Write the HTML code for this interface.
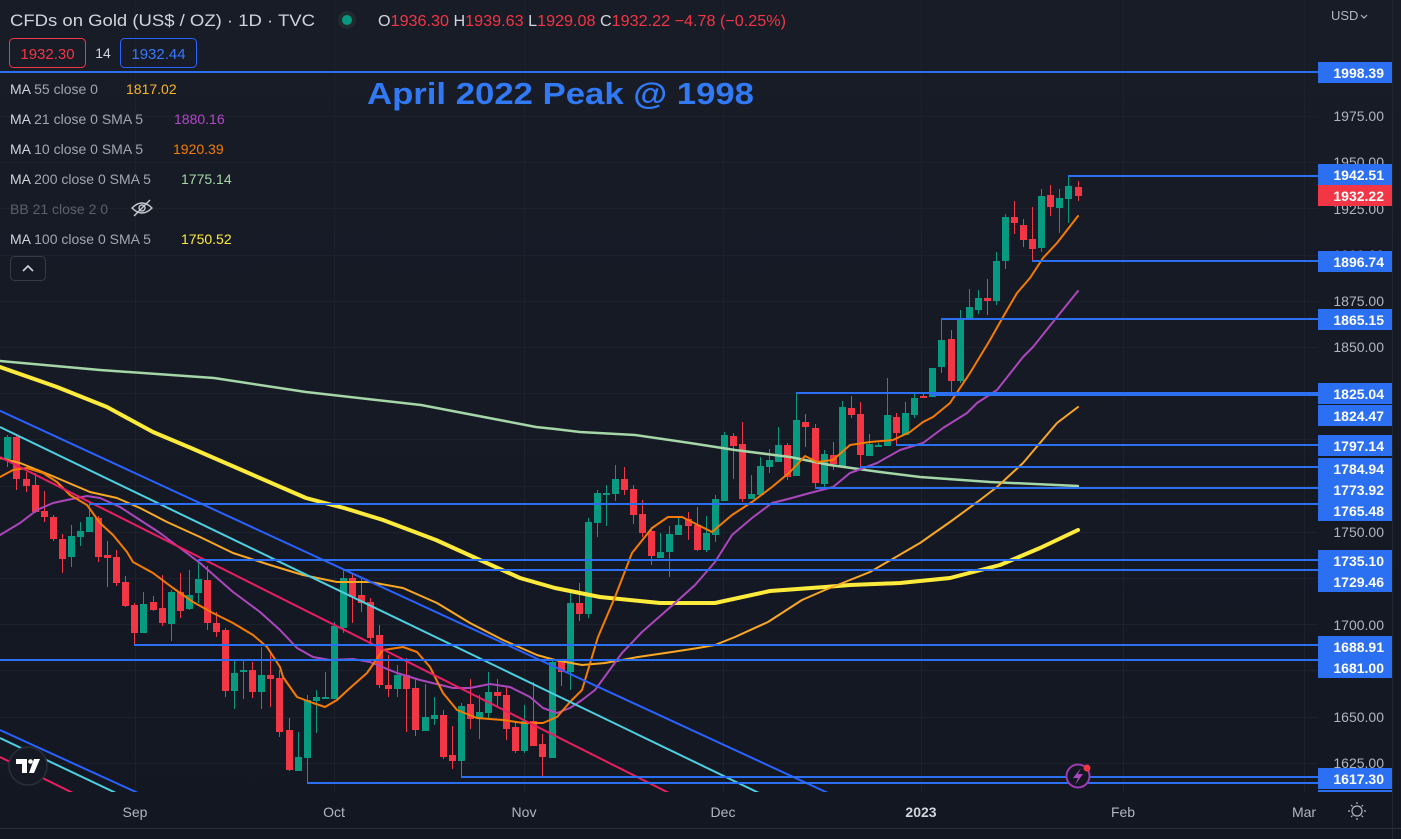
<!DOCTYPE html>
<html><head><meta charset="utf-8"><style>
html,body{margin:0;padding:0;background:#131722;width:1401px;height:839px;overflow:hidden}
svg{display:block}
text{font-family:"Liberation Sans",sans-serif}
</style></head><body>
<svg width="1401" height="839" viewBox="0 0 1401 839" xmlns="http://www.w3.org/2000/svg">
<defs>
<linearGradient id="bg" x1="0" y1="0" x2="0" y2="1">
<stop offset="0" stop-color="#181c27"/><stop offset="1" stop-color="#131722"/>
</linearGradient>
<clipPath id="plot"><rect x="0" y="0" width="1318" height="792"/></clipPath>
</defs>
<rect width="1401" height="839" fill="url(#bg)"/>
<!-- grid -->
<g stroke="#1d212c" stroke-width="1">
<path d="M135.5 0V792M334.5 0V792M524.5 0V792M723.5 0V792M921.5 0V792M1123.5 0V792M1304.5 0V792"/>
<path d="M0 116.5H1318M0 162.5H1318M0 208.5H1318M0 255.5H1318M0 301.5H1318M0 347.5H1318M0 393.5H1318M0 439.5H1318M0 486.5H1318M0 532.5H1318M0 578.5H1318M0 624.5H1318M0 670.5H1318M0 717.5H1318M0 763.5H1318"/>
</g>
<line x1="1392.5" y1="0" x2="1392.5" y2="839" stroke="#222631" stroke-width="1"/>
<g clip-path="url(#plot)">
<!-- candles -->
<path stroke="#089981" stroke-width="1" fill="none" d="M7.5 435V467M71.5 525V567M80.5 522V546M89.5 503V532M143.5 592V633M171.5 590V641M189.5 570V610M198.5 560V603M234.5 661V709M243.5 660V699M261.5 647V709M298.5 732V771M307.5 695V783M316.5 690V733M325.5 672V699M334.5 622V699M343.5 570V633M397.5 665V697M425.5 684V731M434.5 697V725M461.5 703V778M479.5 695V739M488.5 672V718M524.5 705V753M552.5 660V758M570.5 593V690M588.5 518V618M597.5 490V537M606.5 485V526M615.5 465V501M660.5 533V558M669.5 526V577M678.5 516V535M706.5 516V552M715.5 495V542M724.5 432V501M751.5 475V499M760.5 457V496M769.5 449V473M778.5 427V462M796.5 393V476M824.5 450V487M842.5 401V467M869.5 434V456M878.5 443V447M887.5 378V446M905.5 402V435M914.5 392V418M932.5 368V397M941.5 318V373M960.5 310V383M969.5 289V319M978.5 290V314M996.5 252V305M1005.5 214V269M1041.5 189V252M1059.5 189V233M1068.5 176V223"/>
<path fill="#089981" d="M4 437h7v22h-7zM68 536h7v21h-7zM77 531h7v6h-7zM86 517h7v15h-7zM140 604h7v29h-7zM168 592h7v32h-7zM186 595h7v14h-7zM195 579h7v14h-7zM231 673h7v18h-7zM240 670h7v2h-7zM258 675h7v17h-7zM295 757h7v14h-7zM304 700h7v58h-7zM313 697h7v4h-7zM322 697h7v2h-7zM331 626h7v73h-7zM340 578h7v50h-7zM394 675h7v14h-7zM422 717h7v14h-7zM431 715h7v4h-7zM458 706h7v55h-7zM476 712h7v7h-7zM485 692h7v21h-7zM521 721h7v30h-7zM549 662h7v96h-7zM567 603h7v69h-7zM585 522h7v92h-7zM594 493h7v30h-7zM603 493h7v2h-7zM612 479h7v15h-7zM657 552h7v6h-7zM666 534h7v18h-7zM675 525h7v10h-7zM703 533h7v17h-7zM712 499h7v36h-7zM721 435h7v66h-7zM748 494h7v5h-7zM757 466h7v29h-7zM766 460h7v7h-7zM775 445h7v17h-7zM793 420h7v56h-7zM821 454h7v30h-7zM839 407h7v59h-7zM866 444h7v12h-7zM875 445h7v2h-7zM884 415h7v31h-7zM902 413h7v22h-7zM911 398h7v17h-7zM929 368h7v29h-7zM938 340h7v27h-7zM957 319h7v62h-7zM966 307h7v12h-7zM975 298h7v12h-7zM993 261h7v40h-7zM1002 217h7v44h-7zM1038 196h7v52h-7zM1056 198h7v10h-7zM1065 186h7v13h-7z"/>
<path stroke="#f23645" stroke-width="1" fill="none" d="M16.5 435V490M26.5 472V492M35.5 473V513M44.5 491V522M53.5 515V541M62.5 534V573M98.5 516V562M107.5 541V587M116.5 550V586M125.5 576V607M134.5 603V646M153.5 596V611M162.5 575V626M180.5 573V618M207.5 566V630M216.5 612V637M225.5 628V697M252.5 662V698M270.5 653V707M279.5 670V737M289.5 718V771M352.5 573V623M361.5 578V612M370.5 598V643M379.5 625V688M388.5 655V697M406.5 658V732M415.5 678V736M443.5 710V759M452.5 726V769M470.5 679V729M497.5 679V707M506.5 686V740M515.5 722V753M533.5 682V746M542.5 734V778M561.5 659V686M579.5 583V621M624.5 467V495M633.5 485V524M642.5 500V537M651.5 527V565M688.5 512V540M697.5 507V551M733.5 433V479M742.5 422V502M787.5 443V480M805.5 414V447M815.5 424V488M833.5 442V470M851.5 396V418M860.5 402V467M896.5 413V445M923.5 393V398M951.5 330V393M987.5 279V315M1014.5 201V234M1023.5 219V247M1032.5 207V261M1050.5 185V216M1078.5 181V201"/>
<path fill="#f23645" d="M13 437h7v42h-7zM23 479h7v7h-7zM32 485h7v27h-7zM41 511h7v6h-7zM50 517h7v22h-7zM59 539h7v20h-7zM95 518h7v39h-7zM104 555h7v3h-7zM113 557h7v26h-7zM122 582h7v24h-7zM131 605h7v28h-7zM150 602h7v8h-7zM159 608h7v15h-7zM177 592h7v19h-7zM204 580h7v43h-7zM213 623h7v9h-7zM222 630h7v61h-7zM249 670h7v22h-7zM267 675h7v4h-7zM276 678h7v54h-7zM286 730h7v40h-7zM349 578h7v19h-7zM358 595h7v8h-7zM367 602h7v36h-7zM376 635h7v50h-7zM385 685h7v4h-7zM403 675h7v14h-7zM412 688h7v42h-7zM440 715h7v42h-7zM449 755h7v6h-7zM467 704h7v15h-7zM494 692h7v4h-7zM503 695h7v34h-7zM512 727h7v24h-7zM530 721h7v25h-7zM539 744h7v13h-7zM558 659h7v13h-7zM576 603h7v11h-7zM621 479h7v11h-7zM630 489h7v26h-7zM639 514h7v19h-7zM648 531h7v25h-7zM685 519h7v7h-7zM694 525h7v25h-7zM730 436h7v10h-7zM739 444h7v55h-7zM784 445h7v32h-7zM802 422h7v5h-7zM812 428h7v55h-7zM830 455h7v9h-7zM848 408h7v7h-7zM857 414h7v41h-7zM893 417h7v16h-7zM920 396h7v2h-7zM948 339h7v42h-7zM984 298h7v3h-7zM1011 217h7v6h-7zM1020 225h7v15h-7zM1029 239h7v10h-7zM1047 195h7v12h-7zM1075 187h7v9h-7z"/>
<!-- moving averages -->
<g fill="none" stroke-linejoin="round" stroke-linecap="round">
<polyline stroke="#a5d6a7" stroke-width="2.5" points="0,361 100,370 214,378 306,392 421,405 536,427 555,429 580,432 635,435 690,443 735,450 790,457 830,465 880,472 920,477 990,482 1078,486"/>
<polyline stroke="#ffeb3b" stroke-width="4" points="0,367 57,387 107,407 153,432 191,448 237,468 306,498 344,508 383,520 436,540 480,560 520,578 555,588 600,597 660,603 715,603 770,591 825,587 850,585 900,583 950,578 1000,565 1040,548 1078,530"/>
<polyline stroke="#f9a825" stroke-width="2" points="0,458 20,463 50,475 90,492 117,498 140,508 167,522 200,537 233,553 270,565 303,575 337,582 370,582 403,588 437,603 470,623 503,640 537,655 555,660 582,665 605,663 638,657 672,652 698,648 715,645 735,637 768,622 802,600 825,590 870,572 920,543 950,522 980,500 997,487 1023,463 1057,423 1078,407"/>
<polyline stroke="#ab47bc" stroke-width="2" points="0,535 20,523 37,510 53,503 67,500 87,496 100,498 120,507 140,520 160,533 180,548 200,563 233,592 260,612 280,630 297,648 313,657 330,660 353,659 370,662 397,673 420,680 453,688 470,688 490,684 510,687 530,697 543,708 557,713 570,708 582,700 595,690 622,653 642,632 675,603 695,585 715,562 732,535 752,518 772,503 788,499 810,493 833,487 850,473 877,463 900,450 923,443 943,428 967,413 977,403 997,390 1023,357 1033,347 1057,317 1078,291"/>
<polyline stroke="#f57c00" stroke-width="2" points="0,477 13,470 27,468 43,473 57,482 70,495 87,505 100,523 113,535 127,552 133,562 153,573 173,588 193,602 213,613 233,623 253,635 267,647 280,667 283,677 297,697 313,703 325,707 337,700 350,688 367,673 383,650 403,647 417,652 430,667 443,693 457,710 477,718 503,720 523,723 543,723 557,717 570,702 582,690 598,637 615,597 632,553 652,528 668,517 682,517 698,525 712,532 732,515 752,502 772,487 790,472 805,456 817,462 833,460 850,445 870,442 893,440 910,432 923,422 933,417 950,403 970,373 990,340 1003,317 1017,293 1030,278 1043,258 1057,243 1078,216"/>
</g>
<!-- trendlines -->
<g stroke-width="2">
<line x1="0" y1="410.8" x2="828" y2="793" stroke="#2962ff"/>
<line x1="0" y1="427" x2="759" y2="793" stroke="#4dd0e1"/>
<line x1="0" y1="457" x2="669" y2="793" stroke="#e91e63"/>
<line x1="0" y1="730" x2="138" y2="793" stroke="#2962ff"/>
<line x1="0" y1="738" x2="116" y2="793" stroke="#4dd0e1"/>
<line x1="0" y1="757" x2="73" y2="793" stroke="#e91e63"/>
</g>
<!-- horizontal rays -->
<g stroke="#2b6ff2" stroke-width="2">
<line x1="0" y1="72" x2="1318" y2="72"/>
<line x1="1068" y1="176" x2="1318" y2="176"/>
<line x1="1032" y1="261" x2="1318" y2="261"/>
<line x1="941" y1="319" x2="1318" y2="319"/>
<line x1="796" y1="393" x2="1318" y2="393"/>
<line x1="932" y1="395" x2="1318" y2="395"/>
<line x1="896" y1="445" x2="1318" y2="445"/>
<line x1="860" y1="467" x2="1318" y2="467"/>
<line x1="815" y1="488" x2="1318" y2="488"/>
<line x1="89" y1="504" x2="1318" y2="504"/>
<line x1="198" y1="560" x2="1318" y2="560"/>
<line x1="343" y1="570" x2="1318" y2="570"/>
<line x1="134" y1="645" x2="1318" y2="645"/>
<line x1="0" y1="660" x2="1318" y2="660"/>
<line x1="461" y1="777" x2="1318" y2="777"/>
<line x1="307" y1="783" x2="1318" y2="783"/>
</g>
</g>
<!-- header -->
<text x="10" y="26" font-size="17" fill="#d1d4dc" textLength="305" lengthAdjust="spacingAndGlyphs">CFDs on Gold (US$ / OZ) · 1D · TVC</text>
<circle cx="347" cy="20" r="9" fill="#1f2b2c"/>
<circle cx="347" cy="20" r="5" fill="#089981"/>
<text x="378" y="26" font-size="16" textLength="408" lengthAdjust="spacingAndGlyphs"><tspan fill="#d1d4dc">O</tspan><tspan fill="#f23645">1936.30 </tspan><tspan fill="#d1d4dc">H</tspan><tspan fill="#f23645">1939.63 </tspan><tspan fill="#d1d4dc">L</tspan><tspan fill="#f23645">1929.08 </tspan><tspan fill="#d1d4dc">C</tspan><tspan fill="#f23645">1932.22 −4.78 (−0.25%)</tspan></text>
<rect x="9.5" y="38.5" width="76" height="29" rx="4" fill="none" stroke="#f23645"/>
<text x="47.5" y="59" font-size="15" fill="#f23645" text-anchor="middle">1932.30</text>
<text x="103" y="58" font-size="14" fill="#d1d4dc" text-anchor="middle">14</text>
<rect x="120.5" y="38.5" width="76" height="29" rx="4" fill="none" stroke="#2962ff"/>
<text x="158.5" y="59" font-size="15" fill="#3a78ff" text-anchor="middle">1932.44</text>
<!-- legend -->
<g font-size="14">
<text x="10" y="94"><tspan fill="#d1d4dc">MA</tspan><tspan fill="#a3a6af"> 55 close 0</tspan></text>
<text x="126" y="94" fill="#f9b627">1817.02</text>
<text x="10" y="124"><tspan fill="#d1d4dc">MA</tspan><tspan fill="#a3a6af"> 21 close 0 SMA 5</tspan></text>
<text x="174" y="124" fill="#b247c8">1880.16</text>
<text x="10" y="154"><tspan fill="#d1d4dc">MA</tspan><tspan fill="#a3a6af"> 10 close 0 SMA 5</tspan></text>
<text x="173" y="154" fill="#f57c00">1920.39</text>
<text x="10" y="184"><tspan fill="#d1d4dc">MA</tspan><tspan fill="#a3a6af"> 200 close 0 SMA 5</tspan></text>
<text x="181" y="184" fill="#a5d6a7">1775.14</text>
<text x="10" y="214" fill="#5d606b">BB 21 close 2 0</text>
<text x="10" y="244"><tspan fill="#d1d4dc">MA</tspan><tspan fill="#a3a6af"> 100 close 0 SMA 5</tspan></text>
<text x="181" y="244" fill="#ffeb3b">1750.52</text>
</g>
<g fill="none" stroke="#c8cad0" stroke-width="1.4">
<path d="M132 208 Q142 198 152 208 Q142 218 132 208Z"/>
<circle cx="142" cy="208" r="3"/>
<line x1="134" y1="216" x2="150" y2="200"/>
</g>
<rect x="10.5" y="256.5" width="35" height="24" rx="4" fill="none" stroke="#363a45"/>
<polyline points="23,271 28,266 33,271" fill="none" stroke="#d1d4dc" stroke-width="1.6"/>
<text x="367" y="104" font-size="31" font-weight="bold" fill="#3179f5" textLength="387" lengthAdjust="spacingAndGlyphs">April 2022 Peak @ 1998</text>
<!-- right axis -->
<text x="1331" y="20" font-size="13" fill="#b2b5be">USD</text>
<polyline points="1361,15 1364,18 1367,15" fill="none" stroke="#b2b5be" stroke-width="1.2"/>
<g font-size="14" fill="#b2b5be" text-anchor="end">
<text x="1384" y="121">1975.00</text>
<text x="1384" y="167">1950.00</text>
<text x="1384" y="214">1925.00</text>
<text x="1384" y="260">1900.00</text>
<text x="1384" y="306">1875.00</text>
<text x="1384" y="352">1850.00</text>
<text x="1384" y="445">1800.00</text>
<text x="1384" y="537">1750.00</text>
<text x="1384" y="630">1700.00</text>
<text x="1384" y="722">1650.00</text>
<text x="1384" y="768">1625.00</text>
</g>
<g fill="#2b6ff2">
<rect x="1318" y="62" width="74" height="21"/>
<rect x="1318" y="164" width="74" height="21"/>
<rect x="1318" y="251" width="74" height="21"/>
<rect x="1318" y="309" width="74" height="21"/>
<rect x="1318" y="383" width="74" height="21"/>
<rect x="1318" y="405" width="74" height="21"/>
<rect x="1318" y="435" width="74" height="21"/>
<rect x="1318" y="458" width="74" height="63"/>
<rect x="1318" y="550" width="74" height="42"/>
<rect x="1318" y="636" width="74" height="42"/>
<rect x="1318" y="768" width="74" height="21"/>
<rect x="1318" y="790" width="74" height="2"/>
</g>
<rect x="1318" y="185" width="74" height="21" fill="#f23645"/>
<g font-size="14" font-weight="bold" fill="#ffffff" text-anchor="end">
<text x="1384" y="78">1998.39</text>
<text x="1384" y="180">1942.51</text>
<text x="1384" y="201">1932.22</text>
<text x="1384" y="267">1896.74</text>
<text x="1384" y="325">1865.15</text>
<text x="1384" y="399">1825.04</text>
<text x="1384" y="421">1824.47</text>
<text x="1384" y="451">1797.14</text>
<text x="1384" y="474">1784.94</text>
<text x="1384" y="495">1773.92</text>
<text x="1384" y="516">1765.48</text>
<text x="1384" y="566">1735.10</text>
<text x="1384" y="587">1729.46</text>
<text x="1384" y="652">1688.91</text>
<text x="1384" y="673">1681.00</text>
<text x="1384" y="784">1617.30</text>
</g>
<!-- time axis -->
<line x1="0" y1="828.5" x2="1401" y2="828.5" stroke="#2a2e39"/>
<g font-size="14" fill="#b2b5be" text-anchor="middle">
<text x="135" y="817">Sep</text>
<text x="334" y="817">Oct</text>
<text x="524" y="817">Nov</text>
<text x="723" y="817">Dec</text>
<text x="921" y="817" fill="#d1d4dc" font-weight="bold">2023</text>
<text x="1123" y="817">Feb</text>
<text x="1304" y="817">Mar</text>
</g>
<g stroke="#b2b5be" stroke-width="1.2" fill="none">
<circle cx="1357" cy="811" r="5"/>
<path d="M1357 802v2M1357 818v2M1348 811h2M1364 811h2M1351 805l1.5 1.5M1361.5 815.5l1.5 1.5M1351 817l1.5-1.5M1361.5 806.5l1.5-1.5"/>
</g>
<!-- tradingview logo -->
<circle cx="28" cy="766" r="19" fill="#151924" stroke="#2a2e39" stroke-width="1.5"/>
<path fill="#ffffff" d="M16 759h11v14h-5v-9h-6z"/>
<circle cx="30.5" cy="761.5" r="2.3" fill="#ffffff"/>
<path fill="#ffffff" d="M34 759h6l-6 14h-5z"/>
<!-- lightning -->
<circle cx="1078" cy="776" r="11.5" fill="#131722" stroke="#9c3bb0" stroke-width="2"/>
<path fill="#ab47bc" d="M1081 768L1073 778H1078L1075 785L1083 774H1078Z"/>
<circle cx="1087" cy="768" r="3.5" fill="#f23645"/>
</svg>
</body></html>
